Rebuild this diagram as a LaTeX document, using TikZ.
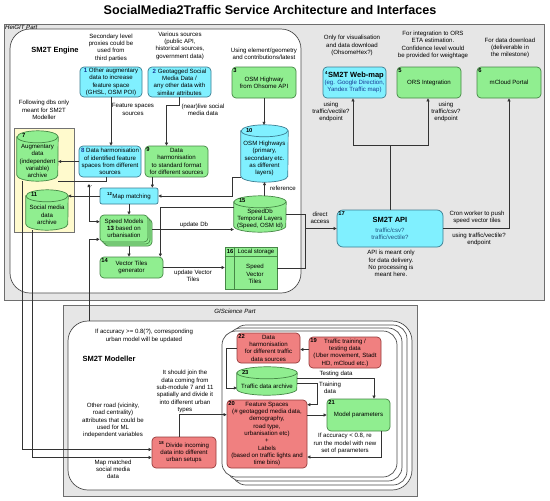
\documentclass[tikz,border=0pt]{standalone}
\usepackage{fontspec}
\setmainfont{Liberation Sans}
\usetikzlibrary{arrows.meta}

\definecolor{cyanfill}{RGB}{128,240,255}
\definecolor{cyanline}{RGB}{60,125,145}
\definecolor{greenfill}{RGB}{144,238,144}
\definecolor{greenline}{RGB}{70,135,70}
\definecolor{redfill}{RGB}{240,128,128}
\definecolor{redline}{RGB}{150,60,60}
\definecolor{yellowfill}{RGB}{255,250,205}
\definecolor{panelfill}{RGB}{230,230,230}
\definecolor{panelline}{RGB}{110,110,110}
\definecolor{idblue}{RGB}{25,60,150}
\definecolor{apiblue}{RGB}{30,85,130}

\tikzset{
  txt/.style={font=\fontsize{6.1}{7.3}\selectfont, align=center, inner sep=1pt},
  box/.style={txt, draw, rounded corners=4pt, line width=0.7pt, minimum width=63, minimum height=31},
  cyanbox/.style={box, fill=cyanfill, draw=cyanline},
  greenbox/.style={box, fill=greenfill, draw=greenline},
  redbox/.style={box, fill=redfill, draw=redline},
  cylgreen/.style={fill=greenfill, draw=greenline},
  cylcyan/.style={fill=cyanfill, draw=cyanline},
  idx/.style={label={[font=\bfseries\fontsize{5.8}{6}\selectfont, anchor=north west, inner sep=1.5pt]north west:#1}},
  conn/.style={draw=black!80, line width=0.6pt, -{Triangle[length=3pt,width=3pt]}},
  wire/.style={draw=black!80, line width=0.6pt},
  panel/.style={fill=panelfill, draw=panelline, line width=0.8pt},
  area/.style={fill=white, draw=black!70, line width=0.7pt, rounded corners=20pt},
  heading/.style={font=\bfseries\fontsize{7.5}{9}\selectfont, inner sep=1pt},
  partname/.style={font=\itshape\fontsize{6.1}{7.3}\selectfont, inner sep=1pt},
}

% database: name, centre, width, height, colours, number, text
\newcommand{\dbcyl}[7]{%
  \node[minimum width=#3, minimum height=#4, inner sep=0pt] (#1) at #2 {};
  \path[#5, line width=0.7pt] ([yshift=-6pt]#1.north west) -- ([yshift=6pt]#1.south west)
    arc[start angle=180, end angle=360, x radius=#3*0.5pt, y radius=6pt]
    -- ([yshift=-6pt]#1.north east)
    arc[start angle=0, end angle=180, x radius=#3*0.5pt, y radius=6pt] -- cycle;
  \draw[#5, fill=none, line width=0.7pt] ([yshift=-6pt]#1.north west)
    arc[start angle=180, end angle=360, x radius=#3*0.5pt, y radius=6pt];
  \node[font=\bfseries\fontsize{5.8}{6}\selectfont, anchor=north west, inner sep=1pt] at ([xshift=4pt,yshift=-2pt]#1.north west) {#6};
  \node[txt] at ([yshift=-5pt]#1.center) {#7};
}

\begin{document}
\begin{tikzpicture}[x=1pt,y=-1pt]
\useasboundingbox (0,0) rectangle (550,501);
\node[font=\bfseries\fontsize{12.6}{14}\selectfont] (title) at (270,10) {SocialMedia2Traffic Service Architecture and Interfaces};

% HeiGIT part
\draw[panel] (4,24) rectangle (544,300);
\node[partname, anchor=north west] (heigit) at (4,24) {HeiGIT Part};
\draw[area] (10,29) rectangle (301,293);
\node[heading] (engine) at (55,51) {SM2T Engine};
\draw[fill=yellowfill, draw=black!55, line width=0.6pt] (14,128) rectangle (74,232);

% GIScience part
\draw[panel] (63,305) rectangle (417,496);
\node[partname] (giscience) at (235,311) {GIScience Part};
\draw[area] (68,321) rectangle (412,490);
\node[heading] (modeller) at (109,359) {SM2T Modeller};
\foreach \d in {10,5,0}
  \draw[area, rounded corners=14pt] (222+\d,331-\d*0.6) rectangle (397+\d,477+\d*0.8);

% sources and clients
\node[cyanbox, minimum width=62, minimum height=30] (aug) at (111,82) {\textcolor{idblue}{\textbf{1}} Other augmentary\\data to increase\\feature space\\(GHSL, OSM POI)};
\node[cyanbox, minimum height=30] (geo) at (179.5,82) {\textcolor{idblue}{\textbf{2}} Geotagged Social\\Media Data /\\any other data with\\similar attributes};
\node[greenbox, minimum width=64, idx=3] (osm) at (264,82.5) {OSM Highway\\from Ohsome API};
\node[cyanbox] (webmap) at (354.5,82.5) {\textsuperscript{\textbf{4}}{\bfseries\fontsize{7.5}{9}\selectfont SM2T Web-map}\\\textcolor{idblue}{(eg. Google Direction,}\\\textcolor{idblue}{Yandex Traffic map)}};
\node[greenbox, minimum width=64, idx=5] (ors) at (429,82.5) {ORS Integration};
\node[greenbox, minimum width=64, idx=6] (mcloud) at (509,82.5) {mCloud Portal};

\node[txt] (n1) at (111,47.5) {Secondary level\\proxies could be\\used from\\third parties};
\node[txt] (n2) at (180,45.5) {Various sources\\(public API,\\historical sources,\\government data)};
\node[txt] (n3) at (264,53.5) {Using element/geometry\\and contributions/latest};
\node[txt] (n4) at (352,45.5) {Only for visualisation\\and data download\\(OhsomeHex?)};
\node[txt] (n5) at (433,45) {For integration to ORS\\ETA estimation.\\Confidence level would\\be provided for weightage};
\node[txt] (n6) at (510,48) {For data download\\(deliverable in\\the milestone)};
\node[txt] (ndbs) at (44,110) {Following dbs only\\meant for SM2T\\Modeller};

% engine
\dbcyl{augdb}{(37.5,156)}{41}{50}{cylgreen}{7}{Augmentary\\data\\(independent\\variable)\\archive}
\dbcyl{socdb}{(47,210)}{42}{40}{cylgreen}{11}{Social media\\data\\archive}
\dbcyl{osmdb}{(264.5,153.5)}{47}{57}{cylcyan}{10}{OSM Highways\\(primary,\\secondary etc.\\as different\\layers)}
\dbcyl{speeddb}{(260,214)}{52}{36}{cylgreen}{15}{SpeedDb\\Temporal Layers\\(Speed, OSM Id)}

\node[cyanbox, minimum width=62] (harmfeat) at (110,161.5) {\textcolor{idblue}{\textbf{8}} Data harmonisation\\of identified feature\\spaces from different\\sources};
\node[greenbox, idx=9] (harmstd) at (176.5,161.5) {Data\\harmonisation\\to standard format\\for different sources};
\node[cyanbox, rounded corners=2pt, minimum width=58, minimum height=16] (mapmatch) at (129,196) {\textsuperscript{\textbf{12}}Map matching};
\foreach \d/\n in {4/speedc,2/speedb}
  \node[greenbox, minimum width=48, minimum height=27] (\n) at (124+\d,228.5+\d) {};
\node[greenbox, minimum width=48, minimum height=27] (speed) at (124,228.5) {Speed Models\\\textbf{13} based on\\urbanisation};
\node[greenbox, minimum height=21, idx=14] (vtgen) at (131.5,267.5) {Vector Tiles\\generator};
\node[greenbox, sharp corners, minimum width=52, minimum height=42] (store) at (251,268) {};
\draw[greenline, line width=0.7pt] ([yshift=-10pt]store.north west) -- ([yshift=-10pt]store.north east);
\draw[greenline, line width=0.7pt] ([xshift=10pt]store.north west) -- ([xshift=10pt]store.south west);
\node[font=\bfseries\fontsize{5.8}{6}\selectfont] (storeid) at (230,252) {16};
\node[txt] (storehead) at (256,252) {Local storage};
\node[txt] (storebody) at (255,274) {Speed\\Vector\\Tiles};

\node[cyanbox, rounded corners=6pt, minimum width=106, minimum height=37, idx=17] (api) at (390,228.5) {{\bfseries\fontsize{7.5}{9}\selectfont SM2T API}\\[2pt]\textcolor{apiblue}{traffic/csv?}\\\textcolor{apiblue}{traffic/vectile?}};
\node[txt] (napi) at (391,263.5) {API is meant only\\for data delivery.\\No processing is\\meant here.};

% engine connectors
\draw[conn] (aug.south) -- (aug.south |- harmfeat.north);
\node[txt] (lfeat) at (133,109.5) {Feature spaces\\sources};
\draw[conn] (geo.south) -- ++(0,8) -| ([xshift=-10pt]harmstd.north);
\node[txt] (llive) at (203,109.5) {(near)live social\\media data};
\draw[conn] (osm.south) -- (osm.south |- osmdb.north);
\draw[conn] (harmfeat.west) -- (augdb.east |- harmfeat.west);
\draw[wire] ([xshift=-4pt]harmfeat.south) |- (augdb.south east);
\draw[conn] ([xshift=-6pt]mapmatch.north east |- harmstd.south) -- ([xshift=-6pt]mapmatch.north east);
\draw[conn] ([yshift=5pt]osmdb.south west) -- ++(-9,0) |- (mapmatch.east);
\draw[conn] (mapmatch.west) -- (socdb.east |- mapmatch.west);
\draw[conn] (mapmatch.south) -- (mapmatch.south |- speed.north);
\draw[conn] (mapmatch.south |- speedc.south) -- (mapmatch.south |- vtgen.north);
\draw[conn] ([yshift=3pt]speedc.east) -- ([yshift=3pt]speeddb.west |- speedc.east);
\node[txt] (lupddb) at (194,224.5) {update Db};
\draw[conn] (osmdb.south |- speeddb.north) -- (osmdb.south);
\node[txt] (lref) at (283,188) {reference};
\draw[conn] ([yshift=7pt]speeddb.west) -| ([xshift=-3pt]vtgen.north east);
\draw[conn] (vtgen.east) -- (store.west |- vtgen.east);
\node[txt] (lupdvt) at (193,276) {update Vector\\Tiles};
\coordinate (jn) at (305,228.5);
\draw[wire] (speeddb.east) -| (jn);
\draw[wire] (store.east) -| (jn);
\draw[conn] (jn) -- (api.west);
\node[txt] (ldirect) at (320,218) {direct\\access};
\coordinate (sp) at (390,145);
\draw[wire] (api.north) -- (sp);
\draw[conn] (sp) -| ([xshift=-1.5pt]webmap.south);
\draw[conn] (sp) -| ([xshift=-1pt]ors.south);
\node[txt] (lweb) at (331,112) {using\\traffic/vectile?\\endpoint};
\node[txt] (lors) at (446,112) {using\\traffic/csv?\\endpoint};
\draw[conn] (api.east) -| (mcloud.south);
\node[txt] (lcron) at (477,217.5) {Cron worker to push\\speed vector tiles};
\node[txt] (lvect) at (479,239.5) {using traffic/vectile?\\endpoint};
\coordinate (dots) at (89,184);
\draw[conn, {Triangle[length=3pt,width=3pt]}-{Triangle[length=3pt,width=3pt]}] (dots) |- ([yshift=-7pt]speed.north west);
\node[txt] (ldots) at (90,186) {...};

% modeller
\node[redbox, minimum height=30, idx=22] (harmtraffic) at (268.5,348) {Data\\harmonisation\\for different traffic\\data sources};
\node[redbox, minimum width=72, idx=19] (traffic) at (345,352.5) {Traffic training /\\testing data\\(Uber movement, Stadt\\HD, mCloud etc.)};
\dbcyl{trafficdb}{(267,381)}{60}{28}{cylgreen}{23}{Traffic data archive}
\node[redbox, minimum width=80, minimum height=68, idx=20] (feat) at (267,434) {Feature Spaces\\(\# geotagged media data,\\demography,\\road type,\\urbanisation etc)\\+\\Labels\\(based on traffic lights and\\time bins)};
\node[greenbox, minimum height=32, idx=21] (params) at (358.5,415) {Model parameters};
\node[redbox, minimum width=64] (divide) at (184,452.5) {\textsuperscript{\textbf{18}} Divide incoming\\data into different\\urban setups};

\node[txt] (lacc) at (144,336) {If accuracy >= 0.8(?), corresponding\\urban model will be updated};
\node[txt] (ljoin) at (185,391.5) {It should join the\\data coming from\\sub-module 7 and 11\\spatially and divide it\\into different urban\\types};
\node[txt] (lroad) at (113,420.5) {Other road (vicinity,\\road centrality)\\attributes that could be\\used for ML\\independent variables};
\node[txt] (lmm) at (113,469.5) {Map matched\\social media\\data};

% modeller connectors
\draw[conn] ([xshift=5pt]augdb.south west) |- ([yshift=3pt]divide.west);
\draw[conn] ([xshift=6pt]socdb.south west) |- ([yshift=-5pt]divide.west);
\coordinate (mtop) at (89,321);
\draw[conn] (mtop) |- ([yshift=3pt]speed.south west);
\draw[conn] ([xshift=-5pt]divide.north) |- ([yshift=-15pt]feat.north west);
\draw[conn] ([yshift=3pt]traffic.west) -- ([yshift=3pt]harmtraffic.east |- traffic.west);
\draw[conn] (harmtraffic.west) -- ++(-10,0) |- ([yshift=-7pt]trafficdb.west);
\draw[conn] ([yshift=3pt]trafficdb.east) -| ([xshift=15.5pt]params.north);
\node[txt] (ltest) at (336,374) {Testing data};
\draw[conn] ([yshift=-2pt]trafficdb.east) -- ++(20,0) |- ([yshift=-5pt]feat.north east);
\node[txt] (ltrain) at (330,387.5) {Training\\data};
\draw[conn] (feat.east |- params.west) -- (params.west);
\draw[conn] ([xshift=-9pt]params.south east) |- ([yshift=-23pt]feat.east);
\node[txt] (lretry) at (345,443.5) {If accuracy < 0.8, re\\run the model with new\\set of parameters};
\end{tikzpicture}
\end{document}
